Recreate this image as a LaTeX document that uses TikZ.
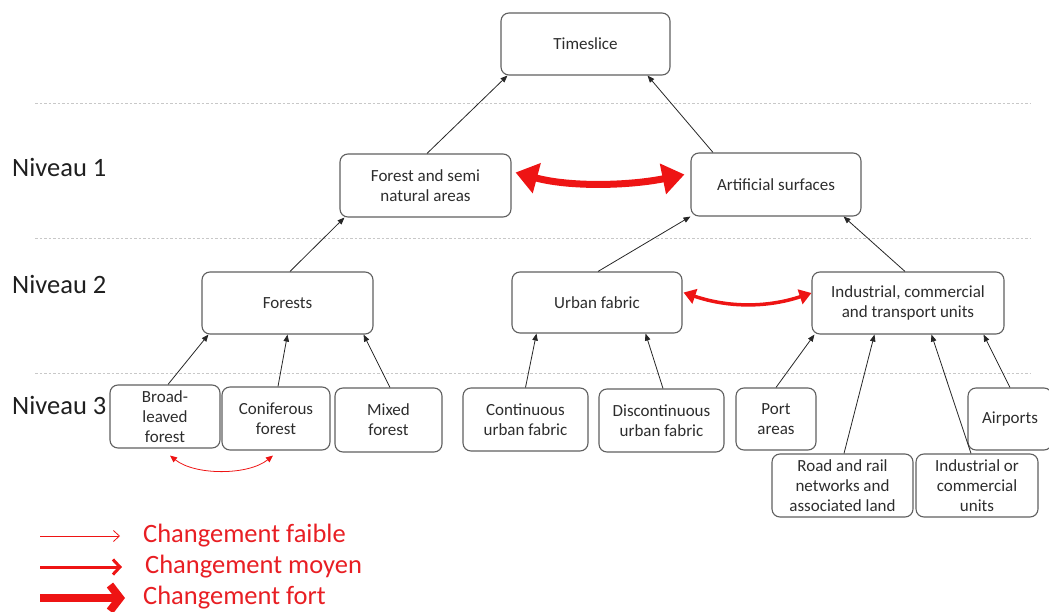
\documentclass[tikz,border=0pt]{standalone}
\usepackage{fontspec}
\setmainfont{Carlito}
\usetikzlibrary{arrows.meta,calc}
\definecolor{boxgray}{RGB}{95,95,95}
\definecolor{txtgray}{RGB}{45,45,45}
\definecolor{chred}{RGB}{238,20,20}
\definecolor{legred}{RGB}{232,30,35}
\definecolor{dotgray}{RGB}{200,200,200}
\tikzset{
  box/.style={draw=boxgray, rounded corners=8pt, line width=1.1pt, align=center,
    inner sep=2pt, text=txtgray, font=\fontsize{17}{20}\selectfont},
  up/.style={draw=black!85, line width=0.8pt, -{Triangle[length=7pt,width=5.5pt]}},
  lvl/.style={anchor=west, text=black!88, font=\fontsize{26.5}{30}\selectfont, inner sep=0pt},
  sep/.style={draw=dotgray, line width=0.9pt, dash pattern=on 2.5pt off 2pt},
  leg/.style={anchor=west, text=legred, font=\fontsize{26.5}{30}\selectfont, inner sep=0pt},
  strong/.style={draw=chred, line width=7pt, {Triangle[length=22pt,width=30pt]}-{Triangle[length=22pt,width=30pt]}},
  medium/.style={draw=chred, line width=3.5pt, {Triangle[length=12pt,width=15pt]}-{Triangle[length=12pt,width=15pt]}},
  weak/.style={draw=chred, line width=0.8pt, {Triangle[length=7pt,width=6pt]}-{Triangle[length=7pt,width=6pt]}}
}
\begin{document}
\begin{tikzpicture}[x=1pt,y=-1pt]
\useasboundingbox (0,0) rectangle (1049,612);
% separators
\draw[sep] (35,103) -- (1030,103);
\draw[sep] (35,238) -- (1030,238);
\draw[sep] (35,373) -- (1030,373);
% level labels
\node[lvl] (n1) at (12,167) {Niveau 1};
\node[lvl] (n2) at (12,284) {Niveau 2};
\node[lvl] (n3) at (12,405) {Niveau 3};
% boxes
\node[box, minimum width=169pt, minimum height=62pt] (ts) at (585.5,44) {Timeslice};
\node[box, minimum width=171pt, minimum height=63pt] (fsn) at (425.5,185.5) {Forest and semi\\natural areas};
\node[box, minimum width=170pt, minimum height=63pt] (art) at (776,184.5) {Artificial surfaces};
\node[box, minimum width=171pt, minimum height=62pt] (for) at (287.5,303) {Forests};
\node[box, minimum width=170pt, minimum height=61pt] (urb) at (597,302.5) {Urban fabric};
\node[box, minimum width=192pt, minimum height=62pt] (ind) at (908,303) {Industrial, commercial\\and transport units};
\node[box, minimum width=110pt, minimum height=63pt] (bl) at (165,416.5) {Broad-\\leaved\\forest};
\node[box, minimum width=108pt, minimum height=63pt] (con) at (276,418.5) {Coniferous\\forest};
\node[box, minimum width=107pt, minimum height=64pt] (mix) at (388.5,420) {Mixed\\forest};
\node[box, minimum width=125pt, minimum height=63pt] (cuf) at (525.5,419.5) {Continuous\\urban fabric};
\node[box, minimum width=125pt, minimum height=63pt] (duf) at (661.5,420.5) {Discontinuous\\urban fabric};
\node[box, minimum width=80pt, minimum height=62pt] (port) at (776,419) {Port\\areas};
\node[box, minimum width=84pt, minimum height=62pt] (air) at (1010,419) {Airports};
\node[box, minimum width=141pt, minimum height=63pt] (road) at (842.5,485.5) {Road and rail\\networks and\\associated land};
\node[box, minimum width=122pt, minimum height=63pt] (iu) at (977,485.5) {Industrial or\\commercial\\units};
% hierarchy arrows
\draw[up] ([xshift=1.5pt]fsn.north) -- ([xshift=7pt]ts.south west);
\draw[up] ([xshift=-63pt]art.north) -- ([xshift=-23pt]ts.south east);
\draw[up] ([xshift=2.5pt]for.north) -- ([xshift=5pt]fsn.south west);
\draw[up] ([xshift=1pt]urb.north) -- (art.south west);
\draw[up] ([xshift=-3pt]ind.north) -- ([xshift=-18pt]art.south east);
\draw[up] ([xshift=3pt]bl.north) -- ([xshift=7pt]for.south west);
\draw[up] ([xshift=2pt]con.north) -- (for.south);
\draw[up] ([xshift=1.5pt]mix.north) -- ([xshift=-10pt]for.south east);
\draw[up] (cuf.north) -- ([xshift=25pt]urb.south west);
\draw[up] ([xshift=1.5pt]duf.north) -- ([xshift=-37pt]urb.south east);
\draw[up] (port.north) -- ([xshift=3pt]ind.south west);
\draw[up] ([xshift=1.5pt]road.north) -- ([xshift=63pt]ind.south west);
\draw[up] ([xshift=-6pt]iu.north) -- ([xshift=120pt]ind.south west);
\draw[up] (air.north) -- ([xshift=-21pt]ind.south east);
% change arrows
\draw[strong] ($(fsn.east)+(4,-13)$) .. controls ($(fsn.east)+(60,2)$) and ($(art.west)+(-60,1)$) .. ($(art.west)+(-6,-10)$);
\draw[medium] ($(urb.east)+(1,-10)$) .. controls ($(urb.east)+(45,5)$) and ($(ind.west)+(-45,5)$) .. ($(ind.west)+(0,-10)$);
\draw[weak] ($(bl.south)+(5,7)$) .. controls ($(bl.south)+(30,27)$) and ($(con.south)+(-28,25)$) .. ($(con.south)+(-3,5)$);
% legend
\coordinate (l1a) at (40,536); \coordinate (l1b) at (120,536);
\coordinate (l2a) at (40,567); \coordinate (l2b) at (122,567);
\coordinate (l3a) at (40,598); \coordinate (l3b) at (125,598);
\draw[draw=chred, line width=0.8pt, -{Straight Barb[length=6pt,width=11pt]}] (l1a) -- (l1b);
\draw[draw=chred, line width=3pt, -{Straight Barb[length=7pt,width=15pt]}] (l2a) -- (l2b);
\draw[draw=chred, line width=8pt, -{Straight Barb[length=10pt,width=26pt]}] (l3a) -- (l3b);
\node[leg] (t1) at (143,536) {Changement faible};
\node[leg] (t2) at (145,567) {Changement moyen};
\node[leg] (t3) at (143,598) {Changement fort};
\end{tikzpicture}
\end{document}
